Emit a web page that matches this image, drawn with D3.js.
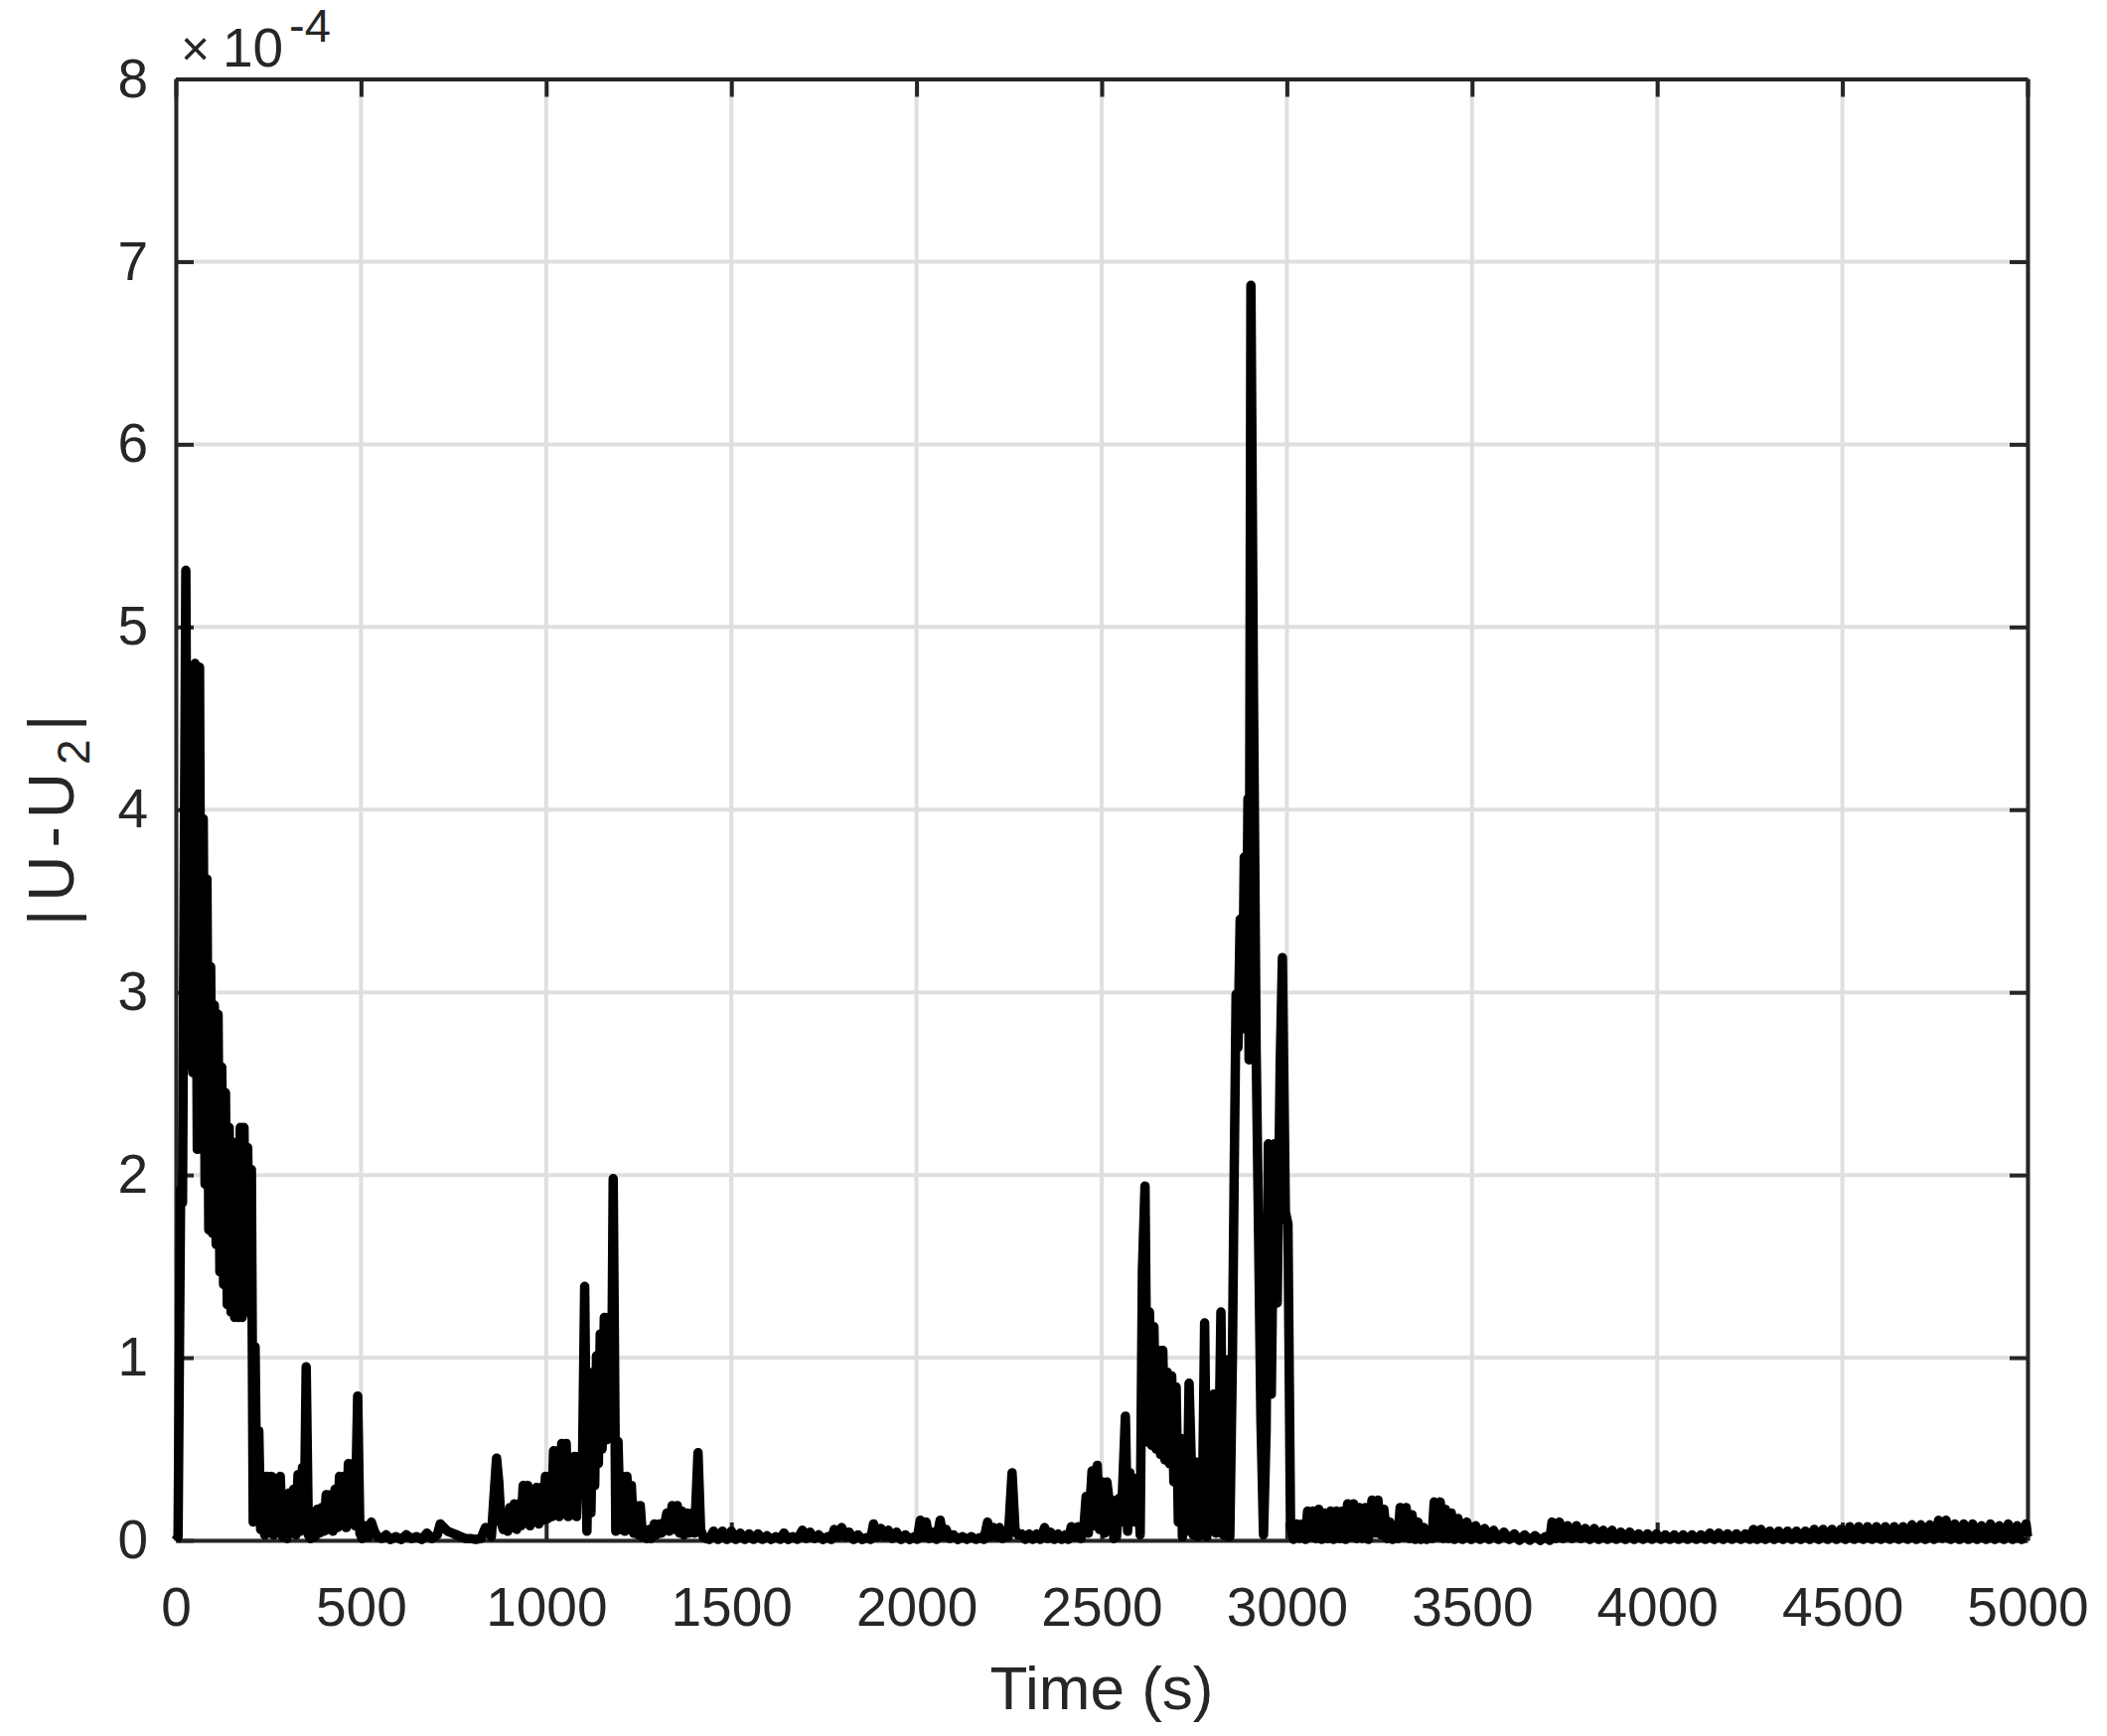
<!DOCTYPE html>
<meta charset='utf-8'>
<style>

body {
  margin: 0;
  background: #fff;
}

svg {
  display: block;
}

text {
  font-family: 'Liberation Sans', Arial, Helvetica, sans-serif;
  fill: #262626;
}

.grid line {
  stroke: #dfdfdf;
  stroke-width: 4px;
}

.axis path,
.axis line {
  stroke: #262626;
  stroke-width: 4px;
}

.axis text {
  font-size: 55px;
}

path.trace {
  fill: none;
  stroke: #000;
  stroke-width: 9.5px;
  stroke-linejoin: round;
}

</style>
<svg id='chart'></svg>
<script src="https://cdn.jsdelivr.net/npm/d3@7"></script>
<script>

// |U-U2| in units of 1e-4 as [time (s), value]
const startBurst = [
  [0,0.00],[6,0.02],[13,1.92],[18,1.85],[27,5.31],[33,2.60],[40,4.78],[46,2.56],[52,4.80],[58,2.14],
  [64,4.78],[69,2.14],[74,3.95],[79,1.95],[84,3.62],[89,1.70],[94,3.14],[99,1.68],[104,2.93],[109,1.62],
  [114,2.88],[119,1.47],[124,2.59],[129,1.40],[134,2.45],[139,1.29],[144,2.26],[149,1.25],[154,2.18],[159,1.22],
  [164,2.15],[169,1.22],[174,2.26],[179,1.22],[184,2.26],[189,1.25],[194,2.15],[199,1.25],[204,2.03],[209,0.10],
  [214,1.06],[219,0.12],[224,0.60],[229,0.06],[234,0.35],[240,0.03],[246,0.35],[252,0.04],[258,0.35],[264,0.03],
  [270,0.34],[276,0.05],[282,0.35],[288,0.02],[294,0.17],[300,0.01],[306,0.26],[312,0.04],[318,0.28],[324,0.03],
  [330,0.36],[336,0.05],[342,0.40],[347,0.10],[352,0.95],[358,0.03],[364,0.01],[370,0.10],[376,0.02],[382,0.17],
  [388,0.04],[394,0.18],[400,0.05],[406,0.25],[412,0.06],[418,0.25],[424,0.05],[430,0.28],[436,0.07],[442,0.35],
  [448,0.08],[454,0.35],[460,0.07],[466,0.42],[472,0.09],[478,0.42],[484,0.08],[491,0.79],[497,0.04],[503,0.01],
  [512,0.08],[520,0.02],[528,0.10],[536,0.05],[544,0.02],[556,0.01],[568,0.03],[580,0.005],[594,0.02],[608,0.005],
  [622,0.03],[636,0.01]
];

const midBurst = [
  [650,0.02],[664,0.005],[678,0.04],[692,0.01],[706,0.03],[714,0.09],[724,0.07],[734,0.05],[746,0.04],[758,0.03],
  [770,0.02],[782,0.01],[796,0.01],[810,0.005],[824,0.01],[836,0.07],[844,0.05],[852,0.02],[866,0.45],[872,0.32],
  [878,0.10],[884,0.06],[890,0.12],[896,0.05],[902,0.18],[908,0.07],[914,0.20],[920,0.06],[926,0.20],[932,0.08],
  [938,0.30],[944,0.10],[950,0.30],[956,0.08],[962,0.24],[968,0.10],[974,0.29],[980,0.09],[986,0.29],[992,0.11],
  [998,0.35],[1004,0.12],[1010,0.35],[1015,0.13],[1020,0.49],[1025,0.14],[1030,0.49],[1035,0.13],[1042,0.53],[1047,0.15],
  [1054,0.53],[1059,0.13],[1064,0.43],[1070,0.14],[1076,0.46],[1082,0.13],[1088,0.46],[1098,0.40],[1104,1.39],[1110,0.05],
  [1116,0.77],[1121,0.15],[1126,0.92],[1131,0.30],[1136,1.01],[1141,0.42],[1146,1.13],[1151,0.50],[1157,1.22],[1163,0.55],
  [1169,1.22],[1176,0.60],[1181,1.98],[1188,0.05],[1194,0.54],[1200,0.06],[1206,0.35],[1212,0.05],[1218,0.35],[1224,0.06],
  [1230,0.30],[1236,0.04],[1242,0.19],[1248,0.03],[1254,0.19],[1260,0.02],[1266,0.06],[1272,0.01],[1278,0.06],[1284,0.01],
  [1292,0.09],[1298,0.03],[1306,0.09],[1312,0.04],[1320,0.09],[1326,0.15],[1332,0.05],[1340,0.19],[1346,0.06],[1354,0.19],
  [1360,0.04],[1366,0.16],[1372,0.03],[1380,0.15],[1386,0.04],[1394,0.15],[1401,0.04],[1410,0.48],[1417,0.06],[1424,0.02],
  [1432,0.01]
];

const quietBand = [
  [1440,0.005],[1452,0.05],[1464,0.005],[1476,0.05],[1488,0.005],[1500,0.05],[1512,0.005],[1524,0.04],[1536,0.005],[1548,0.035],
  [1560,0.005],[1572,0.035],[1584,0.005],[1596,0.025],[1608,0.005],[1620,0.02],[1632,0.005],[1642,0.04],[1654,0.005],[1666,0.02],
  [1678,0.005],[1692,0.055],[1702,0.01],[1712,0.045],[1724,0.01],[1736,0.03],[1748,0.005],[1760,0.02],[1770,0.005],[1778,0.06],
  [1788,0.02],[1798,0.07],[1808,0.02],[1818,0.045],[1830,0.005],[1842,0.03],[1854,0.005],[1866,0.015],[1876,0.005],[1884,0.09],
  [1894,0.02],[1904,0.065],[1914,0.02],[1924,0.055],[1934,0.01],[1946,0.045],[1958,0.005],[1970,0.03],[1982,0.005],[1994,0.02],
  [2002,0.005],[2010,0.11],[2018,0.02],[2026,0.10],[2034,0.01],[2044,0.045],[2054,0.005],[2064,0.11],[2072,0.02],[2080,0.06],
  [2090,0.01],[2100,0.03],[2112,0.005],[2124,0.02],[2136,0.005],[2148,0.02],[2160,0.005],[2172,0.015],[2182,0.005],[2192,0.10],
  [2200,0.02],[2208,0.07],[2216,0.02],[2224,0.07],[2232,0.01],[2240,0.045],[2248,0.02],[2258,0.37],[2266,0.06],[2274,0.03],
  [2284,0.035],[2294,0.005],[2304,0.035],[2314,0.005],[2324,0.035],[2334,0.005],[2346,0.07],[2354,0.01],[2362,0.045],[2372,0.005],
  [2382,0.035],[2392,0.005],[2402,0.03],[2410,0.005],[2418,0.075],[2426,0.02],[2436,0.075],[2444,0.01],[2452,0.07],[2458,0.24],
  [2464,0.04],[2474,0.38],[2480,0.08],[2488,0.41],[2494,0.06],[2502,0.32],[2508,0.04],[2514,0.32],[2520,0.22]
];

const mainBurst = [
  [2527,0.22],[2533,0.01],[2540,0.02],[2547,0.23],[2553,0.10],[2564,0.68],[2570,0.05],[2576,0.37],[2582,0.10],[2588,0.34],
  [2594,0.10],[2598,0.34],[2604,0.03],[2610,1.48],[2617,1.94],[2623,0.54],[2629,1.25],[2635,0.52],[2641,1.17],[2647,0.50],
  [2653,1.04],[2659,0.47],[2665,1.04],[2671,0.44],[2677,0.92],[2683,0.42],[2689,0.90],[2695,0.32],[2701,0.84],[2707,0.10],
  [2713,0.56],[2718,0.02],[2724,0.38],[2730,0.05],[2736,0.86],[2742,0.43],[2747,0.03],[2753,0.43],[2759,0.02],[2765,0.28],
  [2771,0.03],[2778,1.19],[2784,0.02],[2790,0.66],[2796,0.25],[2802,0.80],[2808,0.04],[2815,0.28],[2822,1.25],[2828,0.03],
  [2834,0.99],[2840,0.02],[2846,0.02],[2853,1.00],[2858,2.05],[2863,2.99],[2868,2.70],[2874,3.40],[2880,2.80],[2885,3.74],
  [2890,2.90],[2895,4.06],[2898,2.63],[2903,6.87],[2910,4.60],[2913,3.81],[2917,2.70],[2923,1.78],[2930,0.66],[2937,0.03],
  [2944,0.60],[2950,2.17],[2958,0.80],[2966,2.17],[2974,1.30],[2982,2.60],[2988,3.19],[2996,1.80],[3003,1.73],[3010,0.08]
];

const decayTail = [
  [3018,0.005],[3026,0.09],[3034,0.01],[3042,0.09],[3050,0.005],[3056,0.16],[3064,0.02],[3070,0.16],[3078,0.01],[3086,0.17],
  [3094,0.005],[3102,0.15],[3110,0.01],[3118,0.16],[3126,0.005],[3134,0.16],[3142,0.01],[3150,0.16],[3158,0.005],[3164,0.20],
  [3172,0.02],[3180,0.20],[3188,0.01],[3196,0.18],[3204,0.01],[3212,0.18],[3220,0.005],[3230,0.22],[3238,0.04],[3246,0.22],
  [3254,0.03],[3262,0.17],[3270,0.01],[3278,0.10],[3286,0.005],[3294,0.045],[3300,0.01],[3306,0.18],[3314,0.02],[3322,0.18],
  [3330,0.01],[3338,0.14],[3346,0.005],[3354,0.10],[3362,0.005],[3370,0.07],[3378,0.005],[3386,0.045],[3392,0.01],[3398,0.21],
  [3406,0.02],[3414,0.21],[3422,0.01],[3428,0.17],[3436,0.01],[3444,0.15],[3452,0.005],[3462,0.12],[3474,0.005],[3486,0.10],
  [3498,0.005],[3510,0.08],[3522,0.005],[3534,0.065],[3546,0.005],[3558,0.055],[3572,0.005],[3586,0.045],[3600,0.005],[3614,0.035],
  [3628,0.0],[3642,0.03],[3656,0.0],[3670,0.025],[3684,0.0],[3698,0.02],[3710,0.0],[3716,0.10],[3726,0.01],[3736,0.10],
  [3746,0.01],[3758,0.08],[3770,0.01],[3782,0.08],[3794,0.01],[3806,0.065],[3818,0.005],[3830,0.065],[3842,0.005],[3854,0.055],
  [3866,0.005],[3878,0.055],[3890,0.005],[3902,0.045],[3914,0.005],[3926,0.045],[3938,0.005],[3950,0.035],[3962,0.005],[3974,0.035],
  [3986,0.005],[3998,0.035],[4010,0.005],[4022,0.03],[4034,0.005],[4046,0.03],[4058,0.005],[4070,0.03],[4082,0.005],[4094,0.03],
  [4106,0.005],[4118,0.03],[4130,0.005],[4142,0.04],[4154,0.005],[4166,0.04],[4178,0.005],[4190,0.035],[4202,0.005],[4214,0.035],
  [4226,0.005],[4238,0.035],[4250,0.005],[4260,0.06],[4270,0.005],[4280,0.06],[4292,0.005],[4304,0.05],[4316,0.005],[4328,0.05],
  [4340,0.005],[4352,0.05],[4364,0.005],[4376,0.05],[4388,0.005],[4400,0.05],[4412,0.005],[4424,0.06],[4436,0.005],[4448,0.06],
  [4460,0.005],[4472,0.06],[4484,0.005],[4496,0.06],[4508,0.005],[4520,0.075],[4532,0.005],[4544,0.075],[4556,0.005],[4568,0.075],
  [4580,0.005],[4592,0.075],[4604,0.005],[4616,0.075],[4628,0.005],[4640,0.075],[4652,0.005],[4664,0.075],[4676,0.005],[4688,0.085],
  [4700,0.005],[4712,0.085],[4724,0.005],[4736,0.085],[4748,0.005],[4760,0.11],[4770,0.01],[4780,0.11],[4792,0.005],[4804,0.09],
  [4816,0.005],[4828,0.09],[4840,0.005],[4852,0.09],[4864,0.005],[4876,0.08],[4888,0.005],[4900,0.09],[4912,0.005],[4924,0.08],
  [4936,0.005],[4948,0.09],[4960,0.005],[4972,0.08],[4984,0.005],[4996,0.09],[5000,0.02]
];

const xTicks = [0, 500, 1000, 1500, 2000, 2500, 3000, 3500, 4000, 4500, 5000];
const yTicks = [0, 1, 2, 3, 4, 5, 6, 7, 8];

const width = 2121;
const height = 1748;
const plot = { left: 177, right: 2041, top: 79.5, bottom: 1551 };
const tickLen = 18;

const series = startBurst.concat(midBurst, quietBand, mainBurst, decayTail);

const x = d3.scaleLinear().domain([0, 5000]).range([plot.left, plot.right]);
const y = d3.scaleLinear().domain([0, 8]).range([plot.bottom, plot.top]);

const svg = d3.select('#chart')
  .attr('width', width)
  .attr('height', height);

svg.append('rect')
  .attr('width', width)
  .attr('height', height)
  .attr('fill', '#fff');

// grid
const grid = svg.append('g').attr('class', 'grid');

grid.selectAll('line.gx')
  .data(xTicks)
  .enter().append('line')
  .attr('class', 'gx')
  .attr('x1', d => x(d)).attr('x2', d => x(d))
  .attr('y1', plot.top).attr('y2', plot.bottom);

grid.selectAll('line.gy')
  .data(yTicks)
  .enter().append('line')
  .attr('class', 'gy')
  .attr('x1', plot.left).attr('x2', plot.right)
  .attr('y1', d => y(d)).attr('y2', d => y(d));

// axes, ticks pointing inward, box on
svg.append('g')
  .attr('class', 'axis')
  .attr('transform', 'translate(0,' + plot.bottom + ')')
  .call(d3.axisBottom(x).tickValues(xTicks).tickFormat(d3.format('d'))
    .tickSizeInner(-tickLen).tickSizeOuter(0).tickPadding(47));

svg.append('g')
  .attr('class', 'axis')
  .attr('transform', 'translate(' + plot.left + ',0)')
  .call(d3.axisLeft(y).tickValues(yTicks).tickFormat(d3.format('d'))
    .tickSizeInner(-tickLen).tickSizeOuter(0).tickPadding(28));

svg.append('g')
  .attr('class', 'axis')
  .attr('transform', 'translate(0,' + plot.top + ')')
  .call(d3.axisTop(x).tickValues(xTicks).tickFormat('')
    .tickSizeInner(-tickLen).tickSizeOuter(0));

svg.append('g')
  .attr('class', 'axis')
  .attr('transform', 'translate(' + plot.right + ',0)')
  .call(d3.axisRight(y).tickValues(yTicks).tickFormat('')
    .tickSizeInner(-tickLen).tickSizeOuter(0));

svg.selectAll('.axis .domain').attr('stroke', '#262626');
svg.selectAll('.axis text').attr('fill', '#262626');

// exponent label
svg.append('text')
  .attr('x', 182)
  .attr('y', 66)
  .style('font-size', '50px')
  .text('\u00d7');

svg.append('text')
  .attr('x', 224)
  .attr('y', 67)
  .style('font-size', '55px')
  .text('10');

svg.append('text')
  .attr('x', 291)
  .attr('y', 42)
  .style('font-size', '47px')
  .text('-4');

// axis labels
svg.append('text')
  .attr('x', (plot.left + plot.right) / 2)
  .attr('y', 1721)
  .attr('text-anchor', 'middle')
  .style('font-size', '62px')
  .text('Time (s)');

const yLabel = svg.append('text')
  .attr('transform', 'translate(74,822) rotate(-90)')
  .attr('text-anchor', 'middle')
  .style('font-size', '64px')
  .style('letter-spacing', '8px');

yLabel.append('tspan').text('|U-U');
yLabel.append('tspan').attr('dy', 16).style('font-size', '46px').text('2');
yLabel.append('tspan').attr('dy', -16).text('|');

// data
svg.append('path')
  .datum(series)
  .attr('class', 'trace')
  .attr('d', d3.line()
    .x(d => x(d[0]))
    .y(d => y(d[1])));

</script>
